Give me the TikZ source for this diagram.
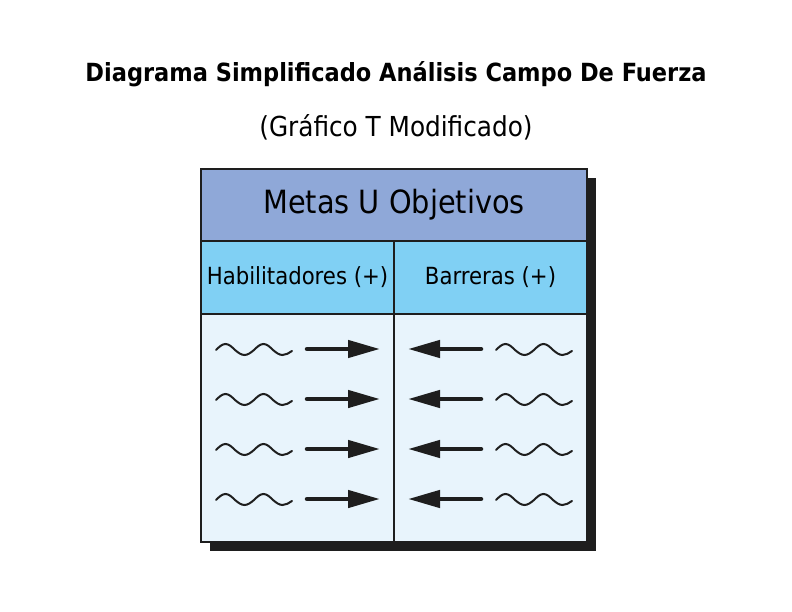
\documentclass[tikz,border=0pt]{standalone}
\usepackage{fontspec}
\setmainfont{DejaVu Sans Condensed}
\usepackage{tikz}
\usetikzlibrary{arrows.meta, positioning}

\definecolor{goalblue}{RGB}{143,168,216}
\definecolor{skyblue}{RGB}{128,208,244}
\definecolor{paleblue}{RGB}{232,244,252}
\definecolor{inkgray}{RGB}{30,30,30}

\begin{document}
\begin{tikzpicture}[x=1pt, y=-1pt,
    cell/.style={draw=inkgray, line width=1.4pt, inner sep=0pt, outer sep=0pt, text=black},
    wave/.style={draw=inkgray, line width=2pt, line cap=round},
    force/.style={draw=inkgray, line width=4.5pt, line cap=round,
                  -{Triangle[length=32pt, width=17pt]}}]
        \useasboundingbox (0,0) rectangle (792,612);

        % Titles
        \node[font=\bfseries\fontsize{25}{30}\selectfont] (title) at (396,74) {Diagrama Simplificado Análisis Campo De Fuerza};
        \node[font=\fontsize{27.5}{32}\selectfont] (subtitle) at (396,127) {(Gráfico T Modificado)};

        % Shadow
        \fill[inkgray] (210,178) rectangle (596,551);

        % Table cells
        \node[cell, fill=goalblue, minimum width=386pt, minimum height=72pt,
              font=\fontsize{32}{37}\selectfont] (goal) at (394,205) {Metas U Objetivos};
        \node[cell, fill=skyblue, minimum width=193pt, minimum height=73pt,
              font=\fontsize{23.6}{28}\selectfont, anchor=north west] (enablers) at (goal.south west) {Habilitadores (+)};
        \node[cell, fill=skyblue, minimum width=193pt, minimum height=73pt,
              font=\fontsize{23.6}{28}\selectfont, anchor=north west] (barriers) at (enablers.north east) {Barreras (+)};
        \node[cell, fill=paleblue, minimum width=193pt, minimum height=228pt,
              anchor=north west] (leftcol) at (enablers.south west) {};
        \node[cell, fill=paleblue, minimum width=193pt, minimum height=228pt,
              anchor=north west] (rightcol) at (barriers.south west) {};

        % Forces
        \foreach \y in {349,399,449,499} {
            \draw[wave] (216,\y+1) sin ++(9.5,-6) cos ++(9.5,6) sin ++(9.5,5) cos ++(9.5,-5)
                sin ++(9.5,-6) cos ++(9.5,6) sin ++(9.5,5) cos ++(9.5,-4);
            \draw[force] (307,\y) -- (380,\y);
            \draw[force] (481,\y) -- (408,\y);
            \draw[wave] (496,\y+1) sin ++(9.5,-6) cos ++(9.5,6) sin ++(9.5,5) cos ++(9.5,-5)
                sin ++(9.5,-6) cos ++(9.5,6) sin ++(9.5,5) cos ++(9.5,-4);
        }
    \end{tikzpicture}
\end{document}
